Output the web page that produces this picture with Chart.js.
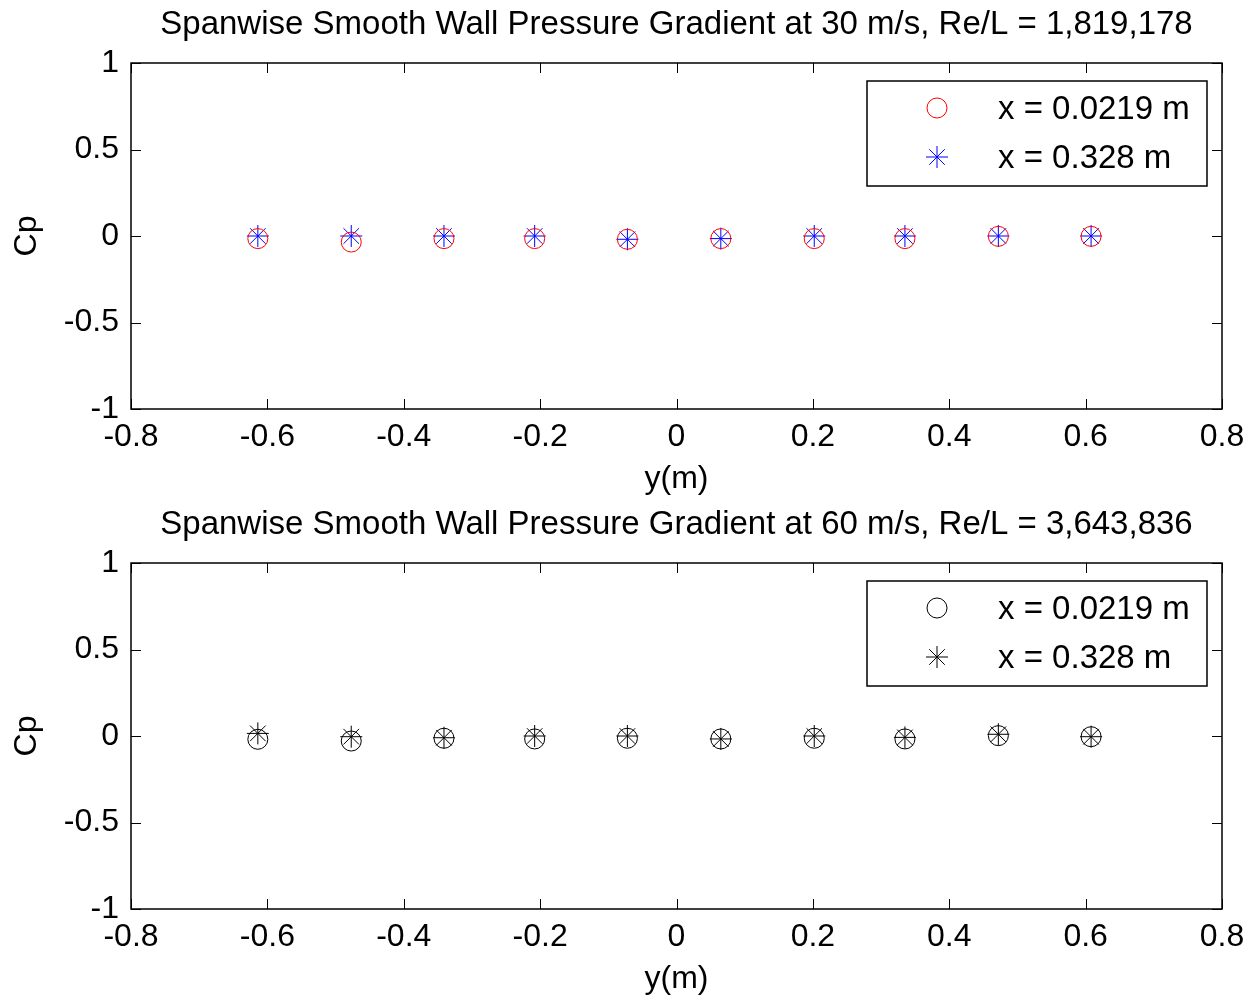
<!DOCTYPE html>
<html><head><meta charset="utf-8">
<script src="https://cdn.jsdelivr.net/npm/chart.js@4/dist/chart.umd.min.js"></script>
<style>
html,body{margin:0;padding:0;background:#fff;overflow:hidden}
#c1{position:absolute;left:0;top:0}
#c2{position:absolute;left:0;top:500px}
</style></head><body>
<canvas id="c1" width="1256" height="500"></canvas>
<canvas id="c2" width="1256" height="503"></canvas>
<script>
// ---- data ----
const yPositions = [-0.614, -0.477, -0.341, -0.208, -0.072, 0.065, 0.202, 0.335, 0.472, 0.608];
const cp30_x0219 = [-0.015, -0.035, -0.015, -0.015, -0.019, -0.015, -0.015, -0.015, -0.002, -0.002];
const cp30_x328  = [0.0, 0.0, 0.0, 0.0, -0.019, -0.015, 0.0, 0.0, 0.0, 0.0];
const cp60_x0219 = [-0.019, -0.029, -0.013, -0.017, -0.013, -0.017, -0.013, -0.017, 0.002, -0.004];
const cp60_x328  = [0.015, -0.004, -0.010, 0.0, 0.0, -0.017, 0.0, -0.008, 0.010, -0.004];
const xTickValues = [-0.8, -0.6, -0.4, -0.2, 0, 0.2, 0.4, 0.6, 0.8];
const yTickValues = [-1, -0.5, 0, 0.5, 1];
const chartTitles = [
  "Spanwise Smooth Wall Pressure Gradient at 30 m/s, Re/L = 1,819,178",
  "Spanwise Smooth Wall Pressure Gradient at 60 m/s, Re/L = 3,643,836"
];
const seriesLabels = ["x = 0.0219 m", "x = 0.328 m"];
const xAxisLabel = "y(m)";
const yAxisLabel = "Cp";

const FONT = "'Liberation Sans', Arial, Helvetica, sans-serif";

function pts(xs, ys) { return xs.map((x, i) => ({x: x, y: ys[i]})); }

const boxPlugin = {
  id: 'matlabBox',
  afterDatasetsDraw(chart) {
    const {ctx, chartArea: a, scales} = chart;
    ctx.save();
    ctx.strokeStyle = '#000';
    ctx.lineWidth = 1;
    const tl = 10;
    scales.x.ticks.forEach(t => {
      const px = Math.round(scales.x.getPixelForValue(t.value)) + 0.5;
      ctx.beginPath();
      ctx.moveTo(px, a.bottom); ctx.lineTo(px, a.bottom - tl);
      ctx.moveTo(px, a.top); ctx.lineTo(px, a.top + tl);
      ctx.stroke();
    });
    scales.y.ticks.forEach(t => {
      const py = Math.round(scales.y.getPixelForValue(t.value)) + 0.5;
      ctx.beginPath();
      ctx.moveTo(a.left, py); ctx.lineTo(a.left + tl, py);
      ctx.moveTo(a.right, py); ctx.lineTo(a.right - tl, py);
      ctx.stroke();
    });
    ctx.lineWidth = 1.5;
    ctx.strokeRect(Math.round(a.left), Math.round(a.top), Math.round(a.right - a.left), Math.round(a.bottom - a.top));
    ctx.restore();
  }
};

const legendPlugin = {
  id: 'matlabLegend',
  afterDraw(chart) {
    const {ctx} = chart;
    const bx = 867, by = 81, bw = 340, bh = 105;
    ctx.save();
    ctx.fillStyle = '#fff';
    ctx.fillRect(bx, by, bw, bh);
    ctx.strokeStyle = '#000';
    ctx.lineWidth = 1.5;
    ctx.strokeRect(bx, by, bw, bh);
    const rows = [108, 157];
    chart.data.datasets.forEach((ds, i) => {
      const y = rows[i];
      const opts = {pointStyle: ds.pointStyle, radius: ds.pointRadius, borderWidth: ds.borderWidth, rotation: 0};
      ctx.strokeStyle = ds.borderColor;
      ctx.fillStyle = 'rgba(0,0,0,0)';
      ctx.lineWidth = ds.borderWidth;
      if (Chart.helpers && Chart.helpers.drawPoint) {
        Chart.helpers.drawPoint(ctx, opts, 937, y);
      }
      ctx.fillStyle = '#000';
      ctx.font = '33px ' + FONT;
      ctx.textBaseline = 'middle';
      ctx.textAlign = 'left';
      ctx.fillText(ds.label, 998, y + 2);
    });
    ctx.restore();
  }
};

function makeChart(id, title, s1, s2, color1, color2) {
  return new Chart(document.getElementById(id), {
    type: 'scatter',
    data: {
      datasets: [
        {label: seriesLabels[0], data: pts(yPositions, s1), pointStyle: 'circle', pointRadius: 10, pointHoverRadius: 10,
         borderColor: color1, backgroundColor: 'rgba(0,0,0,0)', borderWidth: 1, showLine: false},
        {label: seriesLabels[1], data: pts(yPositions, s2), pointStyle: 'star', pointRadius: 11, pointHoverRadius: 11,
         borderColor: color2, backgroundColor: 'rgba(0,0,0,0)', borderWidth: 1, showLine: false}
      ]
    },
    options: {
      responsive: false,
      animation: false,
      devicePixelRatio: 1,
      events: [],
      layout: {padding: {left: 0, right: 34, top: 0, bottom: id === 'c2' ? 3 : 0}},
      plugins: {
        legend: {display: false},
        tooltip: {enabled: false},
        title: {display: true, text: title, color: '#000', fullSize: false,
                font: {family: FONT, size: 33, weight: 'normal', lineHeight: 1.2},
                padding: {top: 5, bottom: 18.4}}
      },
      scales: {
        x: {
          type: 'linear', min: -0.8, max: 0.8,
          afterBuildTicks: s => { s.ticks = xTickValues.map(v => ({value: v})); },
          afterFit: s => { s.height = 91; },
          grid: {display: false, drawTicks: false},
          border: {display: false},
          ticks: {color: '#000', font: {family: FONT, size: 32}, padding: 9, maxRotation: 0, autoSkip: false,
                  callback: v => String(v)},
          title: {display: true, text: xAxisLabel, color: '#000', font: {family: FONT, size: 32}, padding: {top: 0, bottom: 2}}
        },
        y: {
          type: 'linear', min: -1, max: 1,
          afterBuildTicks: s => { s.ticks = yTickValues.map(v => ({value: v})); },
          afterFit: s => { s.width = 131; },
          grid: {display: false, drawTicks: false},
          border: {display: false},
          ticks: {color: '#000', font: {family: FONT, size: 32}, padding: 12, autoSkip: false,
                  callback: v => String(v)},
          title: {display: true, text: yAxisLabel, color: '#000', font: {family: FONT, size: 32}, padding: {top: 8, bottom: 0}}
        }
      }
    },
    plugins: [boxPlugin, legendPlugin]
  });
}

makeChart('c1', chartTitles[0], cp30_x0219, cp30_x328, '#ff0000', '#0000ff');
makeChart('c2', chartTitles[1], cp60_x0219, cp60_x328, '#000000', '#000000');
</script>
</body></html>
